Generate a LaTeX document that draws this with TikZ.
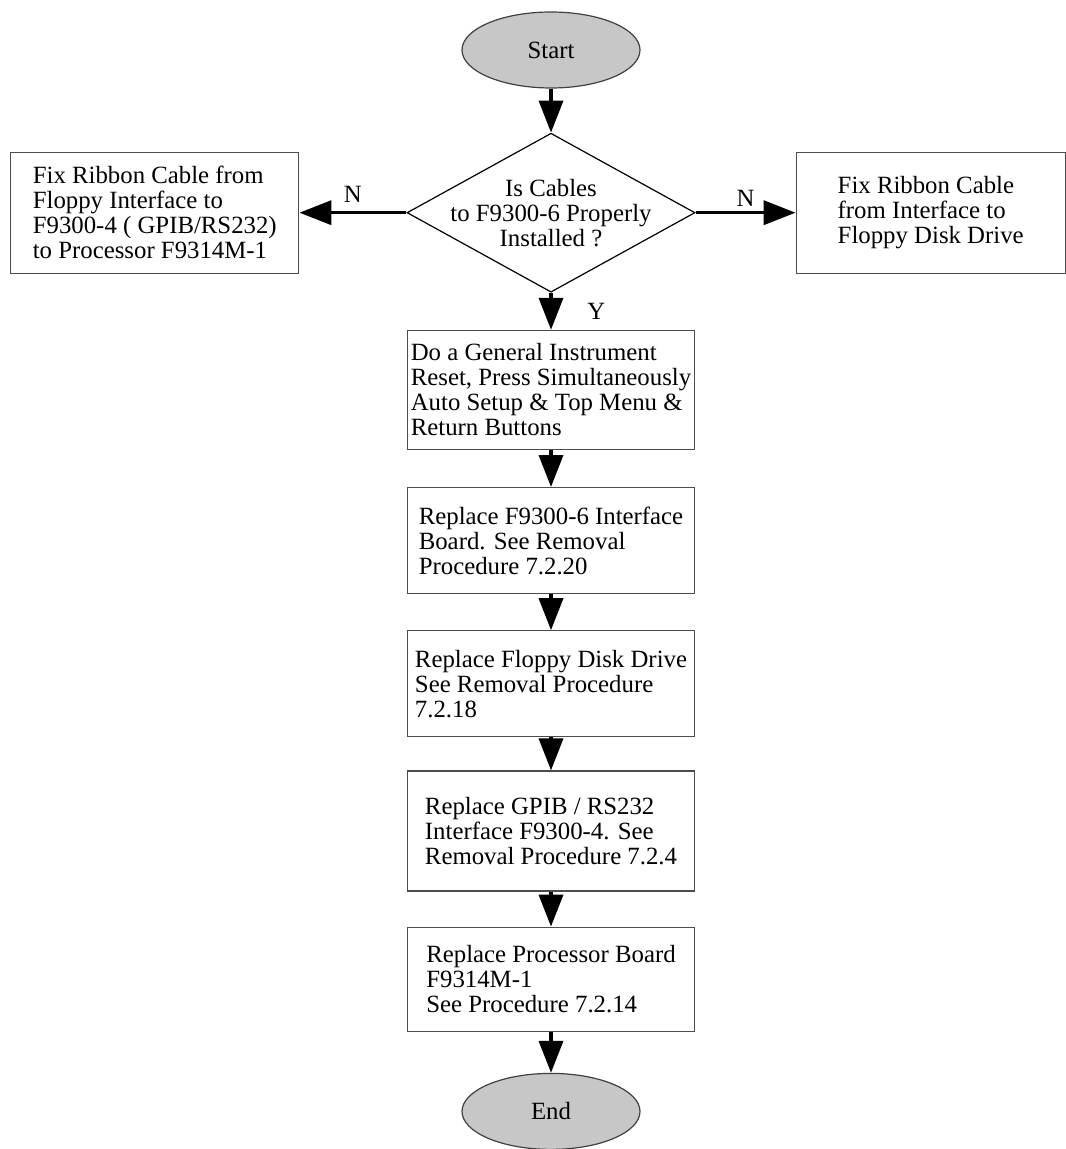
\documentclass[tikz,border=0pt]{standalone}
\usepackage{fontspec}
\setmainfont{Liberation Serif}
\usetikzlibrary{arrows.meta,positioning,shapes.geometric}

\begin{document}
\begin{tikzpicture}[
    node distance=18pt,
    every node/.style={font=\fontsize{12.4}{12.5}\selectfont},
    terminal/.style={draw=black!75, ellipse, fill=black!22, line width=0.6pt, minimum width=89pt, minimum height=38pt, inner sep=0pt},
    decision/.style={draw, diamond, aspect=1.8, align=center, line width=0.6pt, minimum width=144pt, minimum height=79.5pt, inner sep=-8pt},
    stepbox/.style={draw=black!70, line width=0.6pt, align=left, minimum width=143.5pt, minimum height=53pt, inner xsep=1pt},
    sidebox/.style={draw=black!70, line width=0.6pt, align=left, minimum height=60.5pt},
    flow/.style={-{Triangle[length=16pt,width=12pt]}, line width=1.8pt}
]
\useasboundingbox (0,0) rectangle (532.5pt,-574.5pt);
\node[terminal] (start) at (275.5pt,-25pt) {Start};
\node[decision, below=22pt of start] (check) {Is Cables\\to F9300-6 Properly\\Installed ?};
\node[sidebox, minimum width=144pt, left=53.5pt of check] (fixproc) {Fix Ribbon Cable from\\Floppy Interface to\\F9300-4 ( GPIB/RS232)\\to Processor F9314M-1};
\node[sidebox, minimum width=134.5pt, right=50pt of check] (fixdrive) {Fix Ribbon Cable\\from Interface to\\Floppy Disk Drive};
\node[stepbox, minimum height=59.5pt, below=18.5pt of check] (reset) {Do a General Instrument\\Reset, Press Simultaneously\\Auto Setup \& Top Menu \&\\Return Buttons};
\node[stepbox, below=18.5pt of reset] (iface) {Replace F9300-6 Interface\\Board. See Removal\\Procedure 7.2.20};
\node[stepbox, below=of iface] (drive) {Replace Floppy Disk Drive\\See Removal Procedure\\7.2.18};
\node[stepbox, minimum height=60pt, below=16.5pt of drive] (gpib) {Replace GPIB / RS232\\Interface F9300-4. See\\Removal Procedure 7.2.4};
\node[stepbox, minimum height=52pt, below=17.5pt of gpib] (proc) {Replace Processor Board\\F9314M-1\\See Procedure 7.2.14};
\node[terminal, below=20.5pt of proc] (end) {End};
\draw[flow] (start) -- (check);
\draw[flow] (check.west) -- node[above=1pt] {N} (fixproc.east);
\draw[flow] (check.east) -- node[above=-1pt] {N} (fixdrive.west);
\draw[flow] (check.south) -- node[right=14pt] {Y} (reset.north);
\draw[flow] (reset) -- (iface);
\draw[flow] (iface) -- (drive);
\draw[flow] (drive) -- (gpib);
\draw[flow] (gpib) -- (proc);
\draw[flow] (proc) -- (end);
\end{tikzpicture}
\end{document}
